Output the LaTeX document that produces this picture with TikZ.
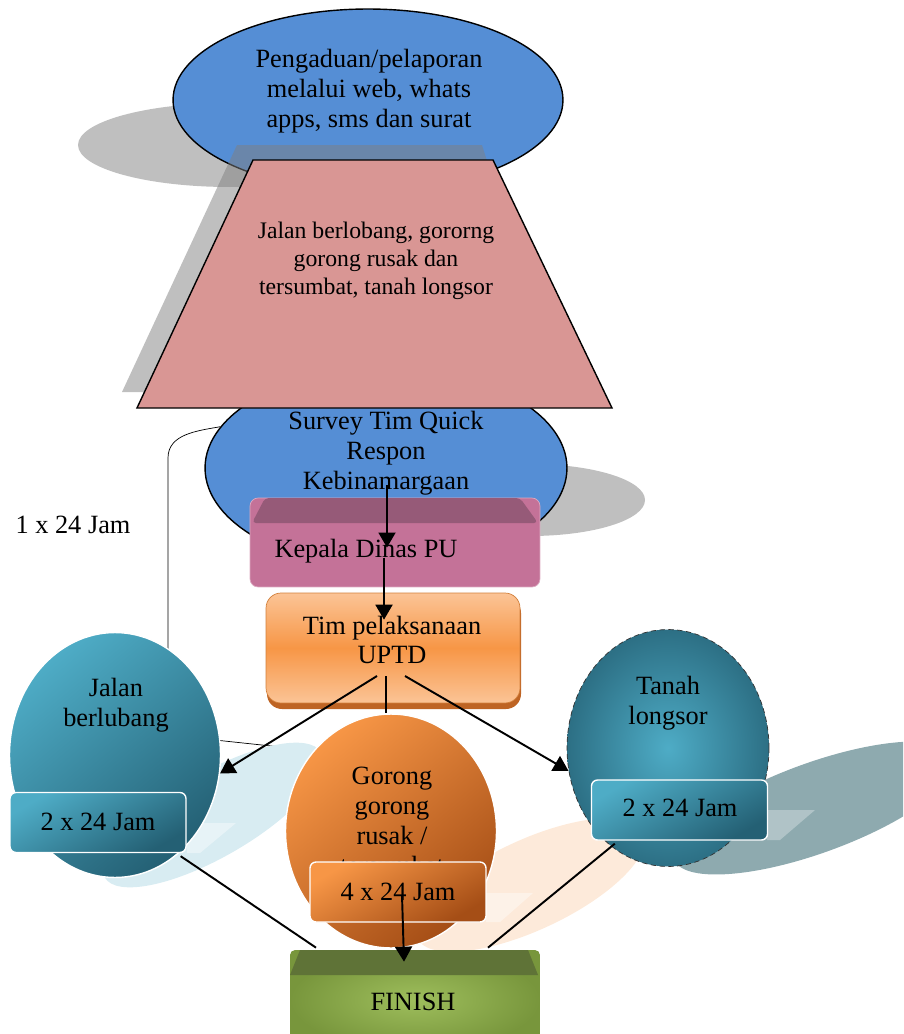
\documentclass[tikz,border=0pt]{standalone}
\usepackage{fontspec}
\setmainfont{Liberation Serif}
\usetikzlibrary{shapes.geometric,arrows.meta,calc}

\definecolor{biru}{RGB}{85,142,213}
\definecolor{merahmuda}{RGB}{217,150,148}
\definecolor{ungu}{RGB}{196,114,152}
\definecolor{ungutua}{RGB}{150,90,120}
\definecolor{tosca}{RGB}{78,172,198}
\definecolor{toscatua}{RGB}{36,96,116}
\definecolor{jingga}{RGB}{247,150,70}
\definecolor{jinggamuda}{RGB}{251,196,150}
\definecolor{jinggatua}{RGB}{165,78,22}
\definecolor{hijau}{RGB}{120,150,60}
\definecolor{hijaumuda}{RGB}{158,190,92}
\definecolor{hijautua}{RGB}{95,115,55}
\definecolor{bayangbiru}{RGB}{216,236,242}
\definecolor{bayangjingga}{RGB}{253,234,218}
\definecolor{bayangtosca}{RGB}{142,170,175}

\begin{document}
\begin{tikzpicture}[x=0.02cm,y=-0.02cm,
  teks/.style={align=center,inner sep=0pt,font=\fontsize{15}{17}\selectfont},
  bayang/.style={fill=gray,opacity=0.5},
  panah/.style={-{Triangle[length=0.3cm,width=0.34cm]},line width=1.1pt},
  garis/.style={line width=1.1pt},
  kotakjam/.style={rounded corners=0.12cm,draw=white,line width=0.8pt,
    minimum width=3.52cm,minimum height=1.2cm,inner sep=0pt}]
\clip (0,0) rectangle (903,1034);

\fill[bayang] (230,145) ellipse [x radius=152, y radius=42];
\node[ellipse,draw,thick,fill=biru,minimum width=7.8cm,minimum height=3.64cm] (lapor) at (368,100) {};
\node[teks] (laportxt) at (369,91) {Pengaduan/pelaporan\\melalui web, whats\\apps, sms dan surat};

\fill[bayang] (530,500) ellipse [x radius=115, y radius=36];
\node[ellipse,draw,thick,fill=biru,minimum width=7.24cm,minimum height=4cm] (survey) at (386,468) {};

\fill[bayang] (237,145) -- (482,145) -- (560,392) -- (122,392) -- cycle;
\filldraw[fill=merahmuda,draw=black,thick] (253,160) -- (493,160) -- (612,408) -- (137,408) -- cycle;
\node[teks,font=\fontsize{13.5}{16}\selectfont] (jenis) at (376,261) {Jalan berlobang, gororng\\gorong rusak dan\\tersumbat, tanah longsor};

\node[teks] (surveytxt) at (386,453) {Survey Tim Quick\\Respon\\Kebinamargaan};

\coordinate (ujung) at (290,748);
\draw (survey.166) to[out=190,in=90] (168,458) -- (168,735) -- (ujung);
\node[teks] (lbl) at (73,525) {1 x 24 Jam};

\node[rounded corners=0.16cm,fill=ungu,draw=ungu!60!white,minimum width=5.8cm,minimum height=1.78cm] (kepala) at (395,542.5) {};
\fill[ungutua,rounded corners=0.08cm] (252,523) -- (265,498) -- (520,498) -- (538,523) -- cycle;
\node[teks] (kepalatxt) at (366,551) {Kepala Dinas PU};

\fill[jinggatua!70!jingga,rounded corners=0.3cm] (267,598) rectangle (521,709);
\node[rounded corners=0.3cm,draw=jingga!85!black,top color=jinggamuda,bottom color=jinggamuda,middle color=jingga,minimum width=5.08cm,minimum height=2.2cm] (tim) at (393,648) {};
\node[teks] (timtxt) at (392,640) {Tim pelaksanaan\\UPTD};

\draw[panah] ($(survey.center)+(1,17)$) -- ($(kepala.center)+(-8,5)$);
\draw[panah] ($(kepala.center)+(-11,15)$) -- ($(tim.north)+(-9,27)$);

\fill[bayangbiru,rotate around={30:(213,815)}] (213,815) ellipse [x radius=125, y radius=42];
\fill[bayangjingga,rotate around={25:(530,885)}] (530,885) ellipse [x radius=125, y radius=45];
\fill[bayangtosca,rotate around={20:(815,808)}] (815,808) ellipse [x radius=150, y radius=45];
\fill[white,opacity=0.4] (187,823) -- (236,823) -- (200,853) -- (187,853) -- cycle;
\fill[white,opacity=0.4] (486,893) -- (533,893) -- (500,922) -- (486,922) -- cycle;
\fill[white,opacity=0.3] (767,810) -- (815,810) -- (780,840) -- (767,840) -- cycle;

\node[ellipse,draw=white,line width=0.8pt,top color=tosca,bottom color=toscatua,shading angle=40,minimum width=4.22cm,minimum height=4.9cm] (jalan) at (115,755) {};
\node[ellipse,draw=white,line width=0.8pt,top color=jingga,bottom color=jinggatua,shading angle=40,minimum width=4.22cm,minimum height=4.68cm] (gorong) at (391,831) {};
\node[ellipse,draw=black!80,densely dashed,inner color=tosca,outer color=toscatua!80!tosca,minimum width=4.04cm,minimum height=4.74cm] (tanah) at (668,748) {};

\node[teks] (jalantxt) at (116,705) {Jalan\\berlubang};
\node[teks] (gorongtxt) at (392,821) {Gorong\\gorong\\rusak /\\tersumbat};
\node[teks] (tanahtxt) at (668,703) {Tanah\\longsor};

\draw[panah] ($(tim.center)+(-16,28)$) -- (jalan.-10);
\draw[garis] ($(tim.center)+(-7,28)$) -- ($(gorong.north)+(-5,0)$);
\draw[panah] ($(tim.center)+(12,28)$) -- (tanah.193);

\node[kotakjam,top color=tosca,bottom color=toscatua,shading angle=30] (jamkiri) at (98,822.5) {};
\node[kotakjam,top color=tosca,bottom color=toscatua,shading angle=30] (jamkanan) at (679.5,810) {};
\node[kotakjam,top color=jingga,bottom color=jinggatua,shading angle=30] (jamtengah) at (398,892) {};
\node[teks] (jamkiritxt) at (98,822) {2 x 24 Jam};
\node[teks] (jamkanantxt) at (680,808) {2 x 24 Jam};
\node[teks] (jamtengahtxt) at (398,892) {4 x 24 Jam};

\node[rounded corners=0.1cm,inner color=hijaumuda,outer color=hijau,minimum width=5cm,minimum height=2cm] (finish) at (415,1000) {};
\fill[hijautua] (290,975) -- (300,950) -- (528,950) -- (538,975) -- cycle;
\node[teks] (finishtxt) at (413,1002) {FINISH};

\draw[garis] ($(jamkiri.south east)+(-6,3)$) -- ($(finish.north)+(-99,-2)$);
\draw[garis] ($(jamkanan.south west)+(24,3)$) -- ($(finish.north)+(73,-2)$);
\draw[panah] ($(jamtengah.center)+(4,3)$) -- ($(finish.north)+(-11,12)$);
\end{tikzpicture}
\end{document}
